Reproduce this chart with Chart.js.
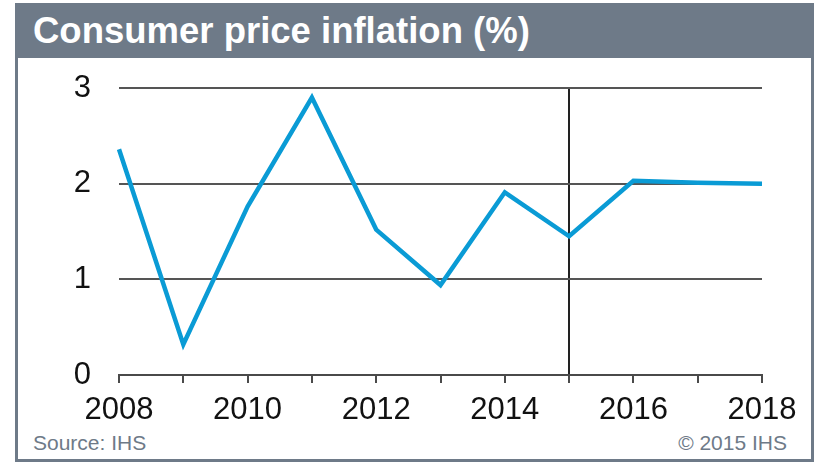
<!DOCTYPE html>
<html>
<head>
<meta charset="utf-8">
<script src="https://cdn.jsdelivr.net/npm/chart.js@4/dist/chart.umd.min.js"></script>
<style>
    html, body { margin: 0; padding: 0; background: #fff; }
    body { width: 819px; height: 465px; position: relative; overflow: hidden;
           font-family: "Liberation Sans", Arial, sans-serif; }
    #frame { position: absolute; left: 15px; top: 3px; width: 793px; height: 456px;
             border: 3px solid #6e7a88; border-top: none; }
    #title { position: absolute; left: 15px; top: 3px; width: 799px; height: 55px;
             background: #6e7a88; color: #fff; font-weight: bold; font-size: 36.5px;
             line-height: 56px; box-sizing: border-box; padding-left: 18px; }
    #source { position: absolute; left: 33px; top: 431px; font-size: 21px; color: #6e7a88; }
    #copy { position: absolute; right: 32px; top: 431px; font-size: 21px; color: #6e7a88; }
    #chart { position: absolute; left: 0; top: 0; }
</style>
</head>
<body>
<div id="frame"></div>
<div id="title">Consumer price inflation (%)</div>
<div id="source">Source: IHS</div>
<div id="copy">© 2015 IHS</div>
<canvas id="chart" width="819" height="465"></canvas>
<script>

var YEARS = ['2008', '2009', '2010', '2011', '2012', '2013', '2014', '2015', '2016', '2017', '2018'];
var INFLATION = [2.36, 0.32, 1.76, 2.90, 1.52, 0.94, 1.91, 1.45, 2.03, 2.01, 2.00];
var Y_TICKS = [0, 1, 2, 3];
var MARKER_YEAR = '2015';

var context = document.getElementById('chart').getContext('2d');
var chart = new Chart(context, {
    type: 'line',
    data: {
        labels: YEARS,
        datasets: [{
            label: 'Consumer price inflation',
            data: INFLATION,
            borderColor: '#0a9bd5',
            borderWidth: 4.5,
            pointRadius: 0,
            tension: 0,
            fill: false
        }]
    },
    options: {
        responsive: false,
        animation: false,
        layout: {
            padding: { top: 88, right: 57, left: 0, bottom: 40 }
        },
        plugins: {
            legend: { display: false },
            tooltip: { enabled: false }
        },
        scales: {
            x: {
                type: 'category',
                offset: false,
                afterFit: function (scale) { scale.height = 50; },
                border: { display: true, color: '#4a4a4a', width: 2 },
                grid: {
                    drawOnChartArea: true,
                    drawTicks: true,
                    tickLength: 8,
                    tickWidth: 2,
                    tickColor: '#4a4a4a',
                    lineWidth: 2,
                    color: function (ctx) {
                        return YEARS[ctx.index] === MARKER_YEAR ? '#222' : 'rgba(0,0,0,0)';
                    }
                },
                ticks: {
                    autoSkip: false,
                    maxRotation: 0,
                    padding: 9,
                    color: '#111',
                    font: { family: '"Liberation Sans", Arial, sans-serif', size: 31 },
                    callback: function (value, index) {
                        var year = YEARS[index];
                        return (parseInt(year, 10) % 2 === 0) ? year : '';
                    }
                }
            },
            y: {
                min: Y_TICKS[0],
                max: Y_TICKS[Y_TICKS.length - 1],
                afterFit: function (scale) { scale.width = 119; },
                afterBuildTicks: function (scale) {
                    scale.ticks = Y_TICKS.map(function (v) { return { value: v }; });
                },
                border: { display: false },
                grid: {
                    drawTicks: false,
                    lineWidth: 2,
                    color: function (ctx) {
                        return ctx.tick.value === 0 ? 'rgba(0,0,0,0)' : '#555';
                    }
                },
                ticks: {
                    padding: 28,
                    color: '#111',
                    font: { family: '"Liberation Sans", Arial, sans-serif', size: 31 }
                }
            }
        }
    }
});
</script>
</body>
</html>
